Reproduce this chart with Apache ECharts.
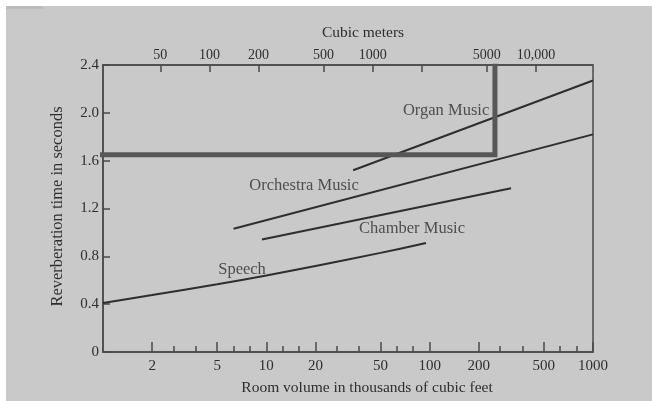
<!DOCTYPE html>
<html>
<head>
<meta charset="utf-8">
<script src="https://cdn.jsdelivr.net/npm/echarts@6/dist/echarts.min.js"></script>
<style>
  html, body { margin: 0; padding: 0; background: #ffffff; width: 652px; height: 401px; overflow: hidden; }
  #chart { position: absolute; left: 6px; top: 6px; width: 646px; height: 395px; }
</style>
</head>
<body>
<div id="chart"></div>
<script>
// ---- Data (x in thousands of cubic feet, y in seconds) ----
const bottomMajorTicks = [2, 5, 10, 20, 50, 100, 200, 500, 1000];
const bottomMinorTicks = [2.7, 3.7, 6.3, 7.9, 12.6, 15.9, 27, 37, 63, 79, 270, 370, 630, 790];
const topTicks = [50, 100, 200, 500, 1000, 2000, 5000, 10000];       // cubic meters
const topTickLabels = ['50', '100', '200', '500', '1000', '', '5000', '10,000'];
const yTickLabels = ['0', '0.4', '0.8', '1.2', '1.6', '2.0', '2.4'];

const speechX = [1, 2, 5, 10, 20, 50, 95];
const speechY = [0.41, 0.476, 0.567, 0.64, 0.72, 0.829, 0.911];
const chamberX = [9.4, 315];
const chamberY = [0.94, 1.37];
const orchestraX = [6.3, 1000];
const orchestraY = [1.03, 1.82];
const organX = [34, 1000];
const organY = [1.52, 2.27];
const highlightX = [0.74, 251, 251];
const highlightY = [1.65, 1.65, 2.41];

const curveNames = ['Organ Music', 'Orchestra Music', 'Chamber Music', 'Speech'];
const curveLabelX = [126, 17, 78, 7.1];
const curveLabelY = [2.02, 1.39, 1.03, 0.685];

// ---- helpers ----
const lg = v => Math.log10(v);
const pts = (xs, ys) => xs.map((x, i) => [lg(x), ys[i]]);
const FONT = 'Liberation Serif';
const TXT = '#2e2e2e';
const AX = '#4a4a4a';

const chart = echarts.init(document.getElementById('chart'), null, { renderer: 'canvas' });

const lineSeries = (name, data, extra) => Object.assign({
  name, type: 'line', data, xAxisIndex: 0, yAxisIndex: 0,
  showSymbol: false, symbol: 'none', silent: true,
  lineStyle: { color: '#2e2e2e', width: 2 }
}, extra || {});

const option = {
  animation: false,
  backgroundColor: '#c9c9c9',
  textStyle: { fontFamily: FONT, color: TXT },
  graphic: [{ type: 'rect', left: 0, top: 0, shape: { width: 37, height: 3 }, style: { fill: '#bcbcbc' } }],
  grid: {
    left: 97, top: 59, right: 59, bottom: 49,
    containLabel: false, outerBoundsMode: 'none',
    show: true, borderColor: AX, borderWidth: 1.5, backgroundColor: 'transparent'
  },
  xAxis: [
    {
      type: 'value', position: 'bottom', min: 0, max: 3,
      axisLine: { show: true, onZero: false, lineStyle: { color: AX, width: 1.5 } },
      axisTick: { show: true, inside: true, length: 10, customValues: bottomMajorTicks.map(lg), lineStyle: { color: AX, width: 1.5 } },
      axisLabel: {
        show: true, margin: 7, fontSize: 15, fontFamily: FONT, color: TXT,
        customValues: bottomMajorTicks.map(lg),
        formatter: v => String(Math.round(Math.pow(10, v)))
      },
      splitLine: { show: false },
      name: 'Room volume in thousands of cubic feet',
      nameLocation: 'middle', nameGap: 28,
      nameTextStyle: { fontSize: 15.5, fontFamily: FONT, color: TXT, padding: [0, 0, 0, 38] }
    },
    {
      type: 'value', position: 'bottom', min: 0, max: 3,
      axisLine: { show: false, onZero: false },
      axisTick: { show: true, inside: true, length: 6, customValues: bottomMinorTicks.map(lg), lineStyle: { color: AX, width: 1.5 } },
      axisLabel: { show: false },
      splitLine: { show: false }
    },
    {
      type: 'value', position: 'top', min: 1.348, max: 4.349,
      axisLine: { show: true, onZero: false, lineStyle: { color: AX, width: 1.5 } },
      axisTick: { show: true, inside: true, length: 7, customValues: topTicks.map(lg), lineStyle: { color: AX, width: 1.5 } },
      axisLabel: {
        show: true, margin: 3, fontSize: 14, fontFamily: FONT, color: TXT,
        customValues: topTicks.map(lg),
        formatter: v => {
          const i = topTicks.findIndex(t => Math.abs(lg(t) - v) < 1e-6);
          return i >= 0 ? topTickLabels[i] : '';
        }
      },
      splitLine: { show: false },
      name: 'Cubic meters', nameLocation: 'middle', nameGap: 24,
      nameTextStyle: { fontSize: 15.5, fontFamily: FONT, color: TXT, padding: [0, 0, 0, 30] }
    }
  ],
  yAxis: [{
    type: 'value', min: 0, max: 2.4, interval: 0.4,
    axisLine: { show: true, onZero: false, lineStyle: { color: AX, width: 1.5 } },
    axisTick: { show: true, inside: true, length: 7, lineStyle: { color: AX, width: 1.5 } },
    axisLabel: {
      show: true, margin: 4, fontSize: 15, fontFamily: FONT, color: TXT,
      formatter: v => yTickLabels[Math.round(v / 0.4)]
    },
    splitLine: { show: false },
    name: 'Reverberation time in seconds', nameLocation: 'middle', nameGap: 37, nameRotate: 90,
    nameTextStyle: { fontSize: 16.5, fontFamily: FONT, color: TXT, padding: [0, 0, 0, 4] }
  }],
  series: [
    lineSeries('Speech', pts(speechX, speechY), { smooth: 0.3 }),
    lineSeries('Chamber Music', pts(chamberX, chamberY)),
    lineSeries('Orchestra Music', pts(orchestraX, orchestraY)),
    lineSeries('Organ Music', pts(organX, organY)),
    lineSeries('highlight', pts(highlightX, highlightY), {
      clip: false, z: 5,
      lineStyle: { color: '#575757', width: 5, join: 'miter', cap: 'butt' }
    }),
    {
      name: 'labels', type: 'scatter', xAxisIndex: 0, yAxisIndex: 0, silent: true,
      symbolSize: 1, itemStyle: { color: 'transparent' },
      data: curveNames.map((n, i) => ({ name: n, value: [lg(curveLabelX[i]), curveLabelY[i]] })),
      label: {
        show: true, position: 'inside', formatter: p => p.name,
        fontSize: 16.5, fontFamily: FONT, color: TXT
      }
    }
  ]
};
chart.setOption(option);
</script>
</body>
</html>
